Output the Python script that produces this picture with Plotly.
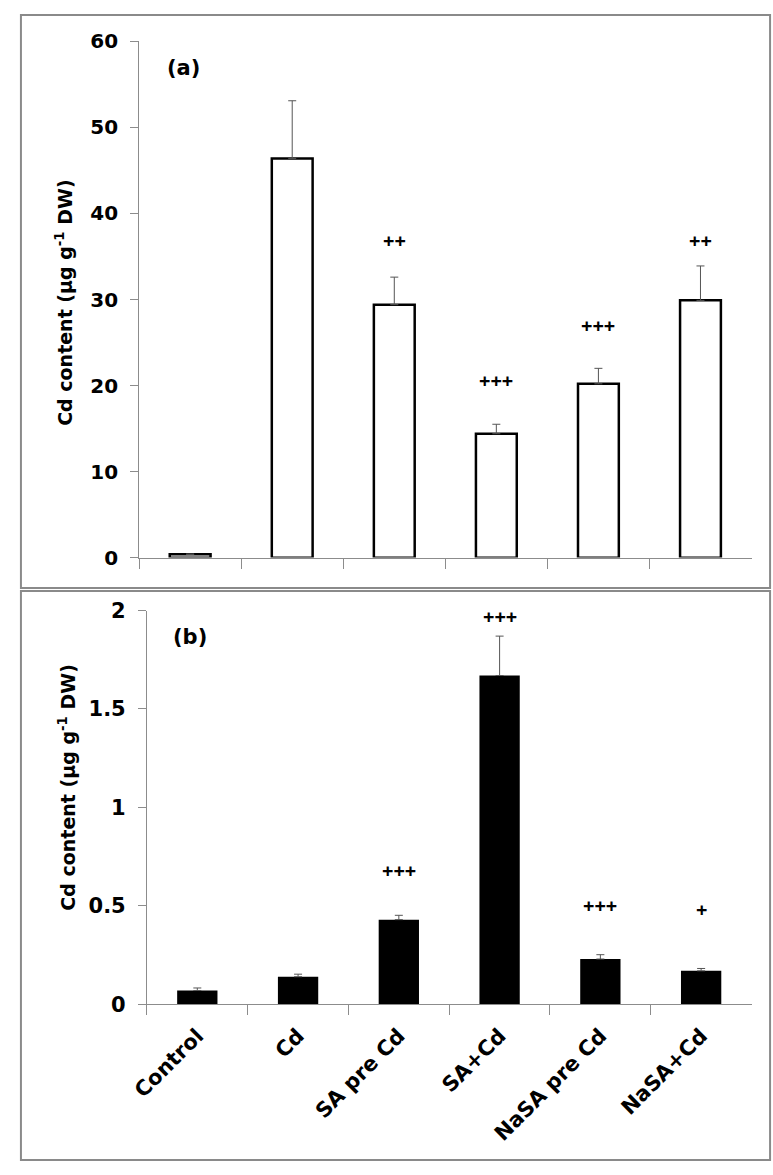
"""
Cd content in two tissues, bar charts (a) and (b) stacked.
"""

import plotly.graph_objects as go

# ─── Data ────────────────────────────────────────────────────────────

treatments = ["Control", "Cd", "SA pre Cd", "SA+Cd", "NaSA pre Cd", "NaSA+Cd"]

cd_a = [0.4, 46.4, 29.4, 14.4, 20.2, 29.9]
err_a = [0.0, 6.7, 3.2, 1.1, 1.8, 4.0]
sig_a = ["", "", "++", "+++", "+++", "++"]
sig_a_y = [0, 0, 36.8, 20.6, 27.0, 36.8]

cd_b = [0.07, 0.14, 0.43, 1.67, 0.23, 0.17]
err_b = [0.013, 0.013, 0.022, 0.20, 0.022, 0.012]
sig_b = ["", "", "+++", "+++", "+++", "+"]
sig_b_y = [0, 0, 0.68, 1.97, 0.50, 0.48]

y_title = "Cd content (µg g<sup>-1</sup> DW)"

W, H = 773, 1175
FONT = "'DejaVu Sans', Verdana, sans-serif"
SIG_FONT = "'Open Sans', sans-serif"
AXIS_GREY = "#8c8c8c"


def px_x(p):
    return p / W


def px_y(p):
    return 1 - p / H


def bold(size, family=FONT):
    return dict(family=family, size=size, color="black", weight="bold")


def paper_note(x, y, text, font, angle=0):
    fig.add_annotation(
        x=px_x(x), y=px_y(y), xref="paper", yref="paper",
        xanchor="center", yanchor="middle",
        text=text, textangle=angle, showarrow=False, font=font,
    )


fig = go.Figure()

# ─── (a) open bars ───────────────────────────────────────────────────

fig.add_trace(
    go.Bar(
        x=treatments,
        y=cd_a,
        marker=dict(color="white", line=dict(color="black", width=2.5)),
        error_y=dict(
            type="data", array=err_a, arrayminus=[0] * len(err_a),
            symmetric=False, color="#555555", thickness=1, width=4,
        ),
        width=0.4,
        xaxis="x",
        yaxis="y",
        showlegend=False,
        hoverinfo="skip",
    )
)

# ─── (b) filled bars ─────────────────────────────────────────────────

fig.add_trace(
    go.Bar(
        x=treatments,
        y=cd_b,
        marker=dict(color="black", line=dict(color="black", width=0)),
        error_y=dict(
            type="data", array=err_b, arrayminus=[0] * len(err_b),
            symmetric=False, color="#555555", thickness=1, width=4,
        ),
        width=0.4,
        xaxis="x2",
        yaxis="y2",
        showlegend=False,
        hoverinfo="skip",
    )
)

axis_common = dict(
    showgrid=False,
    zeroline=False,
    showline=True,
    linecolor=AXIS_GREY,
    linewidth=1,
    ticks="outside",
    tickcolor=AXIS_GREY,
    fixedrange=True,
)

fig.update_layout(
    autosize=True,
    margin=dict(l=0, r=0, t=0, b=0),
    paper_bgcolor="white",
    plot_bgcolor="white",
    font=dict(family=FONT, color="black"),
    xaxis=dict(
        **axis_common,
        domain=[px_x(124), px_x(751)],
        anchor="y",
        tickson="boundaries",
        ticklen=10,
        showticklabels=False,
        range=[-0.5, 5.5],
    ),
    yaxis=dict(
        **axis_common,
        domain=[px_y(557), px_y(30)],
        anchor="x",
        range=[0, 60],
        dtick=10,
        ticklen=8,
        ticklabelstandoff=8,
        tickfont=bold(20),
    ),
    xaxis2=dict(
        **axis_common,
        domain=[px_x(132), px_x(751)],
        anchor="y2",
        tickson="boundaries",
        ticklen=10,
        tickangle=-45,
        ticklabelstandoff=10,
        tickfont=bold(21),
        range=[-0.5, 5.5],
    ),
    yaxis2=dict(
        **axis_common,
        domain=[px_y(1013), px_y(611)],
        anchor="x2",
        range=[0, 2],
        tickvals=[0, 0.5, 1, 1.5, 2],
        ticktext=["0", "0.5", "1", "1.5", "2"],
        ticklen=8,
        ticklabelstandoff=8,
        tickfont=bold(21),
    ),
)

# ─── Significance marks ──────────────────────────────────────────────

for name, mark, yv in zip(treatments, sig_a, sig_a_y):
    if mark:
        fig.add_annotation(x=name, y=yv, xref="x", yref="y", text=mark,
                           showarrow=False, font=bold(20, SIG_FONT))
for name, mark, yv in zip(treatments, sig_b, sig_b_y):
    if mark:
        fig.add_annotation(x=name, y=yv, xref="x2", yref="y2", text=mark,
                           showarrow=False, font=bold(20, SIG_FONT))

# ─── Panel labels, axis titles, frames ───────────────────────────────

paper_note(169, 57, "(a)", bold(21))
paper_note(176, 638, "(b)", bold(21))
paper_note(47, 296, y_title, bold(19), angle=-90)
paper_note(50, 791, y_title, bold(19), angle=-90)

frame = dict(type="rect", xref="paper", yref="paper",
             line=dict(color="#8a8a8a", width=2), fillcolor="rgba(0,0,0,0)")
fig.add_shape(**frame, x0=px_x(3), x1=px_x(770), y0=px_y(588), y1=px_y(3))
fig.add_shape(**frame, x0=px_x(3), x1=px_x(770), y0=px_y(1172), y1=px_y(591))

fit_page = """
var gd = document.getElementById('{plot_id}');
document.documentElement.style.height = '100%';
document.documentElement.style.overflow = 'hidden';
document.body.style.height = '100%';
document.body.style.margin = '0';
document.body.style.overflow = 'hidden';
gd.parentElement.style.height = '100%';
Plotly.Plots.resize(gd);
"""

fig.write_html(
    "out.html",
    default_width="100%",
    default_height="100%",
    config={"displayModeBar": False, "responsive": True},
    post_script=fit_page,
)
